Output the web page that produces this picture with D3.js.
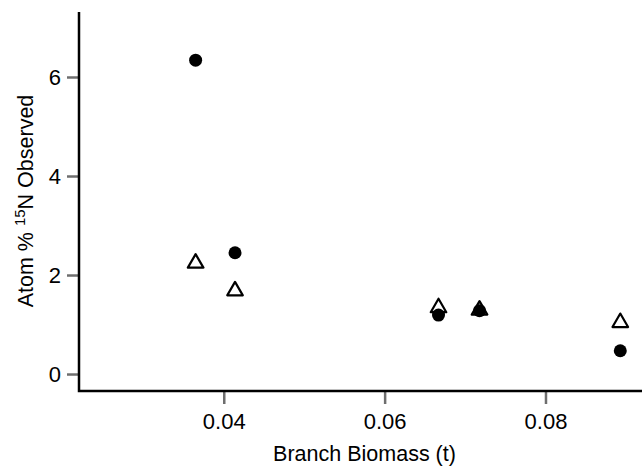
<!DOCTYPE html>
<html>
<head>
<meta charset="utf-8">
<script src="https://cdn.jsdelivr.net/npm/d3@7"></script>
<style>
  body { margin: 0; background: #fff; }
  text { font-family: "Liberation Sans", Arial, sans-serif; }
</style>
</head>
<body>
<div id="chart"></div>
<script>
// values
let biomass = [0.0365, 0.0414, 0.0667, 0.0718, 0.0893];
let circleObs = [6.34, 2.45, 1.19, 1.28, 0.47];
let triangleObs = [2.24, 1.68, 1.34, 1.29, 1.04];
let xTicks = [0.04, 0.06, 0.08];
let yTicks = [0, 2, 4, 6];

let margin = { top: 12, right: 0, bottom: 75, left: 79 };
let width = 642 - margin.left - margin.right;
let height = 466 - margin.top - margin.bottom;

let svg = d3.select('#chart')
    .append('svg')
    .attr('width', 642)
    .attr('height', 466)
    .append('g')
    .attr('transform', `translate(${margin.left}, ${margin.top})`);

let x = d3.scaleLinear().domain([0.022, 0.092]).range([0, width]);
let y = d3.scaleLinear().domain([-0.343, 7.313]).range([height, 0]);

// y axis ticks
let yAxis = svg.append('g')
    .call(d3.axisLeft(y).tickValues(yTicks).tickFormat(d3.format('d')).tickSize(12).tickPadding(6));
yAxis.select('.domain').remove();
yAxis.selectAll('line').attr('stroke', '#6e6e6e').attr('stroke-width', 2.5);
yAxis.selectAll('text').style('font-size', '22px').attr('fill', '#000');

// x axis ticks
let xAxis = svg.append('g')
    .attr('transform', `translate(0, ${height})`)
    .call(d3.axisBottom(x).tickValues(xTicks).tickFormat(d3.format('.2f')).tickSize(13).tickPadding(9));
xAxis.select('.domain').remove();
xAxis.selectAll('line').attr('stroke', '#6e6e6e').attr('stroke-width', 2.5);
xAxis.selectAll('text').style('font-size', '22px').attr('fill', '#000');

// the L-shaped frame
svg.append('path')
    .attr('d', `M0,0V${height}H${width}`)
    .attr('fill', 'none')
    .attr('stroke', '#000')
    .attr('stroke-width', 2.5);

// axis titles
svg.append('text')
    .attr('x', x(0.0575))
    .attr('y', height + 70)
    .attr('text-anchor', 'middle')
    .style('font-size', '21.5px')
    .text('Branch Biomass (t)');

let yt = svg.append('text')
    .attr('transform', `translate(${33 - margin.left}, ${201 - margin.top}) rotate(-90)`)
    .attr('text-anchor', 'middle')
    .style('font-size', '21.5px');
yt.append('tspan').text('Atom % ');
yt.append('tspan').attr('dy', -8).style('font-size', '15px').text('15');
yt.append('tspan').attr('dy', 8).text('N Observed');

// points
svg.selectAll('.dot')
    .data(biomass)
    .enter()
    .append('circle')
    .attr('class', 'dot')
    .attr('cx', d => x(d))
    .attr('cy', (d, i) => y(circleObs[i]))
    .attr('r', 6.5)
    .attr('fill', '#000');

let tri = d3.symbol(d3.symbolTriangle, 105);
svg.selectAll('.tri')
    .data(biomass)
    .enter()
    .append('path')
    .attr('class', 'tri')
    .attr('d', tri)
    .attr('transform', (d, i) => `translate(${x(d)}, ${y(triangleObs[i])})`)
    .attr('fill', 'none')
    .attr('stroke', '#000')
    .attr('stroke-width', 2.2)
    .attr('stroke-linejoin', 'round');
</script>
</body>
</html>
